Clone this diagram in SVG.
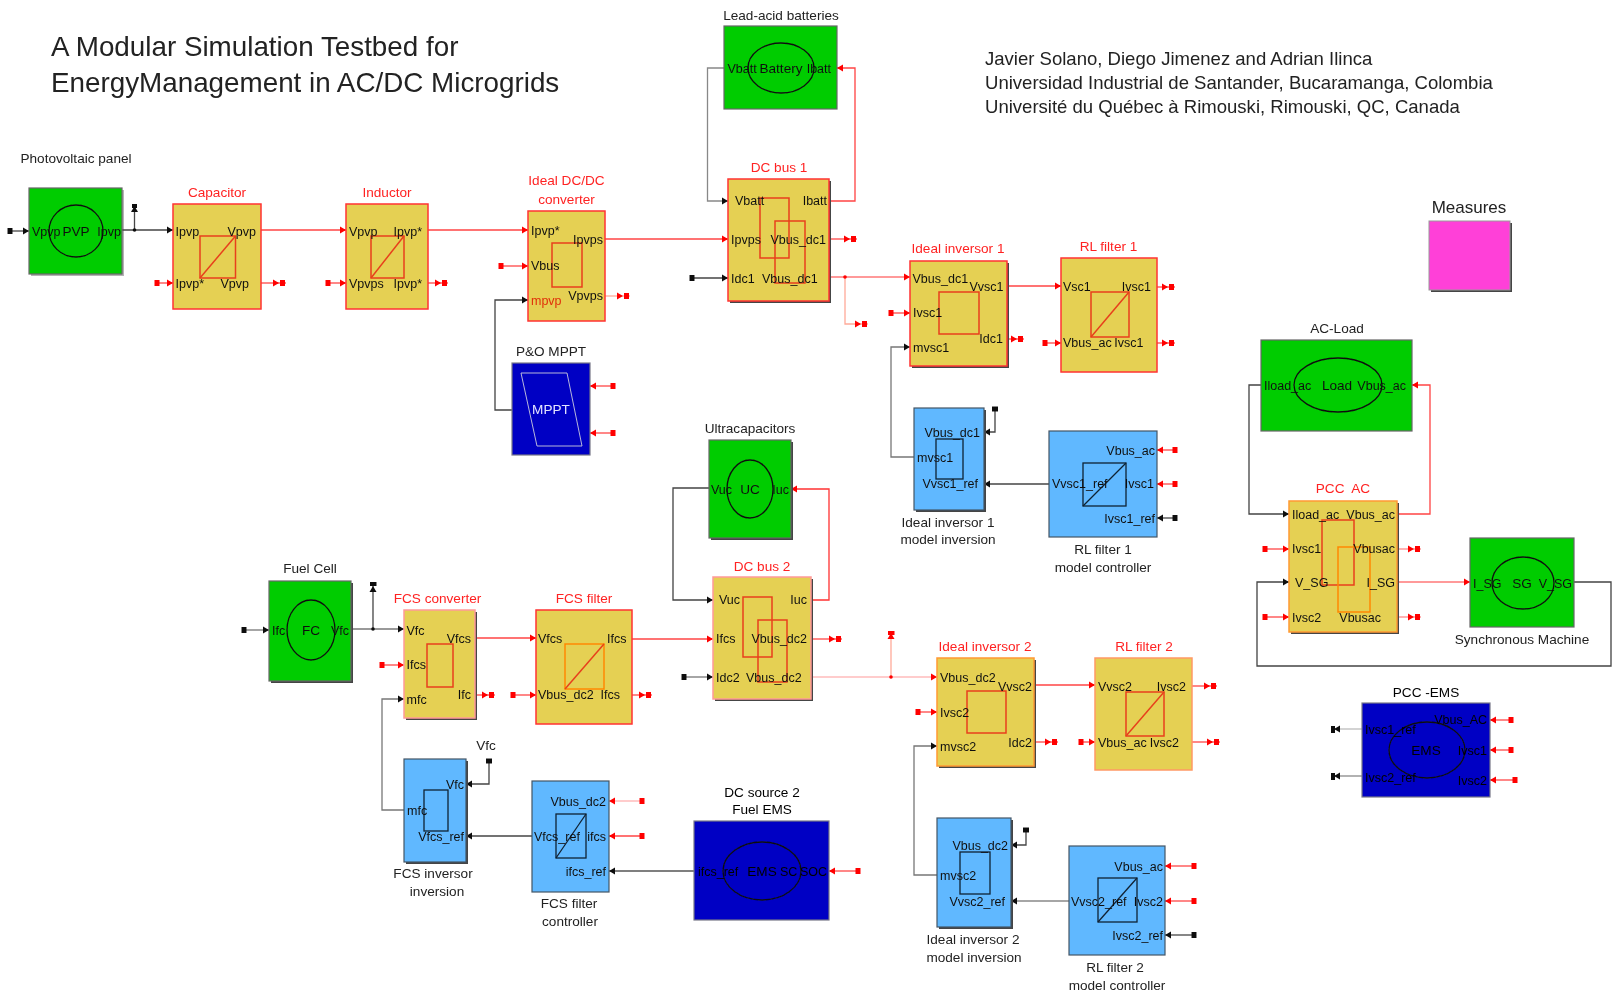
<svg xmlns="http://www.w3.org/2000/svg" width="1612" height="993" viewBox="0 0 1612 993">
<style>
text{font-family:"Liberation Sans",Arial,sans-serif;fill:#111;white-space:pre}
.p{font-size:12.5px}
.e{font-size:12.5px;text-anchor:end}
.l{font-size:13.6px;text-anchor:middle;fill:#222}
.rl{font-size:13.6px;text-anchor:middle;fill:#f22}
.c{font-size:13.6px;text-anchor:middle}
.t{font-size:27.8px;fill:#222}
.a{font-size:18.55px;fill:#222}
.y{fill:#e5d052;stroke:#f33;stroke-width:1.5}
.g{fill:#00cc00;stroke:#666;stroke-width:1.2}
.b{fill:#60b8ff;stroke:#456;stroke-width:1.2}
.d{fill:#0000c4;stroke:#778;stroke-width:1.2}
.sh{fill:#444}
.ir{fill:none;stroke:#e8401c;stroke-width:1.5}
.ik{fill:none;stroke:#123;stroke-width:1.3}
.e0{fill:none;stroke:#111;stroke-width:1.3}
.wr{fill:none;stroke:#f44;stroke-width:1.3}
.wp{fill:none;stroke:#fa9;stroke-width:1.3}
.wk{fill:none;stroke:#444;stroke-width:1.3}
.kt text{fill:#000}
</style>
<defs>
<filter id="soft" filterUnits="userSpaceOnUse" x="0" y="0" width="1612" height="993"><feGaussianBlur stdDeviation="0.4"/></filter>
<marker id="ar" markerUnits="userSpaceOnUse" markerWidth="7" markerHeight="8" refX="6" refY="4" orient="auto"><path d="M0,0.5 L6,4 L0,7.5z" fill="#f00"/></marker>
<marker id="ak" markerUnits="userSpaceOnUse" markerWidth="7" markerHeight="8" refX="6" refY="4" orient="auto"><path d="M0,0.5 L6,4 L0,7.5z" fill="#111"/></marker>
<marker id="sr" markerUnits="userSpaceOnUse" markerWidth="6" markerHeight="8" refX="3" refY="4" orient="auto"><rect x="0.5" y="1" width="5" height="6" fill="#f00"/></marker>
<marker id="sk" markerUnits="userSpaceOnUse" markerWidth="6" markerHeight="8" refX="3" refY="4" orient="auto"><rect x="0.5" y="1" width="5" height="6" fill="#111"/></marker>
<marker id="or" markerUnits="userSpaceOnUse" markerWidth="14" markerHeight="8" refX="13" refY="4" orient="auto"><path d="M0,0.5 L6,4 L0,7.5z" fill="#f00"/><rect x="7" y="1" width="5" height="6" fill="#f00"/></marker>
</defs>
<g id="diagram" filter="url(#soft)">
<g id="title">
<text class="t" x="51" y="56">A Modular Simulation Testbed for</text>
<text class="t" x="51" y="92">EnergyManagement in AC/DC Microgrids</text>
<text class="a" x="985" y="65">Javier Solano, Diego Jimenez and Adrian Ilinca</text>
<text class="a" x="985" y="89">Universidad Industrial de Santander, Bucaramanga, Colombia</text>
<text class="a" x="985" y="113">Université du Québec à Rimouski, Rimouski, QC, Canada</text>
</g>

<g id="connectors">
<path class="wk" d="M10,231H29" marker-start="url(#sk)" marker-end="url(#ak)"/>
<path class="wk" d="M122,230H173" marker-end="url(#ak)"/>
<path class="wk" d="M134.500,230V206" marker-end="url(#ak)"/>
<circle cx="134.500" cy="230" r="1.800" fill="#111"/>
<rect x="132" y="204" width="5" height="4" fill="#111"/>
<path class="wr" d="M261,230H346" marker-end="url(#ar)"/>
<path class="wr" d="M428,230H528" marker-end="url(#ar)"/>
<path class="wr" d="M605,239H728" marker-end="url(#ar)"/>
<path class="wr" d="M157,283H173" marker-start="url(#sr)" marker-end="url(#ar)"/>
<path class="wr" d="M261,283H286" marker-end="url(#or)"/>
<path class="wr" d="M328,283H346" marker-start="url(#sr)" marker-end="url(#ar)"/>
<path class="wr" d="M428,283H448" marker-end="url(#or)"/>
<path class="wr" d="M501,266H528" marker-start="url(#sr)" marker-end="url(#ar)"/>
<path class="wp" d="M605,296H630" marker-end="url(#or)"/>
<path class="wk" d="M512,410H495V300H528" marker-end="url(#ak)"/>
<path class="wr" d="M613,386H590" marker-start="url(#sr)" marker-end="url(#ar)"/>
<path class="wr" d="M613,433H590" marker-start="url(#sr)" marker-end="url(#ar)"/>
<path class="wk" d="M724,68H707.500V201H728" style="stroke:#888" marker-end="url(#ak)"/>
<path class="wr" d="M829,201H855V68H837" marker-end="url(#ar)"/>
<path class="wr" d="M829,239H857" marker-end="url(#or)"/>
<path class="wk" d="M692,278H728" marker-start="url(#sk)" marker-end="url(#ak)"/>
<path class="wr" d="M829,277H910" style="stroke:#f77" marker-end="url(#ar)"/>
<path class="wp" d="M845,277V324H868" marker-end="url(#or)"/>
<circle cx="845" cy="277" r="1.800" fill="#f00"/>
<path class="wr" d="M1007,286H1061" marker-end="url(#ar)"/>
<path class="wr" d="M891,313H910" marker-start="url(#sr)" marker-end="url(#ar)"/>
<path class="wr" d="M1007,339H1024" marker-end="url(#or)"/>
<path class="wr" d="M1157,287H1175" marker-end="url(#or)"/>
<path class="wr" d="M1045,343H1061" marker-start="url(#sr)" marker-end="url(#ar)"/>
<path class="wr" d="M1157,343H1175" marker-end="url(#or)"/>
<path class="wk" d="M914,457H891V347H910" style="stroke:#777" marker-end="url(#ak)"/>
<path class="wk" d="M995,409V432H984" marker-start="url(#sk)" marker-end="url(#ak)"/>
<path class="wk" d="M1049,484H984" marker-end="url(#ak)"/>
<path class="wr" d="M1175,450H1157" marker-start="url(#sr)" marker-end="url(#ar)"/>
<path class="wr" d="M1175,484H1157" marker-start="url(#sr)" marker-end="url(#ar)"/>
<path class="wk" d="M1175,518H1157" marker-start="url(#sk)" marker-end="url(#ak)"/>
<path class="wk" d="M1261,385H1249V514H1289" marker-end="url(#ak)"/>
<path class="wr" d="M1397,514H1430V385H1412" marker-end="url(#ar)"/>
<path class="wr" d="M1265,549H1289" marker-start="url(#sr)" marker-end="url(#ar)"/>
<path class="wr" d="M1265,617H1289" marker-start="url(#sr)" marker-end="url(#ar)"/>
<path class="wr" d="M1397,549H1421" style="stroke:#f88" marker-end="url(#or)"/>
<path class="wr" d="M1397,617H1421" style="stroke:#f88" marker-end="url(#or)"/>
<path class="wr" d="M1397,582H1470" style="stroke:#f77" marker-end="url(#ar)"/>
<path class="wk" d="M1574,582H1611V666H1257V582H1289" marker-end="url(#ak)"/>
<path class="wk" d="M244,630H269" style="stroke:#777" marker-start="url(#sk)" marker-end="url(#ak)"/>
<path class="wk" d="M351,629H404" style="stroke:#777" marker-end="url(#ak)"/>
<path class="wk" d="M373,629V586" marker-end="url(#ak)"/>
<circle cx="373" cy="629" r="1.800" fill="#111"/>
<rect x="370" y="582" width="6.500" height="4" fill="#111"/>
<path class="wr" d="M382,665H404" marker-start="url(#sr)" marker-end="url(#ar)"/>
<path class="wr" d="M475,638H536" marker-end="url(#ar)"/>
<path class="wr" d="M475,695H495" marker-end="url(#or)"/>
<path class="wr" d="M513,695H536" marker-start="url(#sr)" marker-end="url(#ar)"/>
<path class="wr" d="M632,695H652" marker-end="url(#or)"/>
<path class="wr" d="M632,639H713" marker-end="url(#ar)"/>
<path class="wr" d="M811,639H842" marker-end="url(#or)"/>
<path class="wk" d="M684,677H713" style="stroke:#777" marker-start="url(#sk)" marker-end="url(#ak)"/>
<path class="wr" d="M811,600H829V489H791" style="stroke:#f33" marker-end="url(#ar)"/>
<path class="wk" d="M709,488H673V600H713" marker-end="url(#ak)"/>
<path class="wp" d="M811,677H937" style="stroke:#fbb" marker-end="url(#ar)"/>
<path class="wp" d="M891,677V633" marker-end="url(#ar)"/>
<circle cx="891" cy="677" r="1.800" fill="#f00"/>
<rect x="888" y="631" width="6.500" height="4" fill="#f00"/>
<path class="wk" d="M404,810H382V699H404" style="stroke:#777" marker-end="url(#ak)"/>
<path class="wk" d="M489,761V784H466" marker-start="url(#sk)" marker-end="url(#ak)"/>
<path class="wk" d="M532,836H466" marker-end="url(#ak)"/>
<path class="wr" d="M642,801H609" style="stroke:#fbb" marker-start="url(#sr)" marker-end="url(#ar)"/>
<path class="wr" d="M642,836H609" marker-start="url(#sr)" marker-end="url(#ar)"/>
<path class="wk" d="M694,871H609" style="stroke:#555" marker-end="url(#ak)"/>
<path class="wr" d="M858,871H829" marker-start="url(#sr)" marker-end="url(#ar)"/>
<path class="wr" d="M1034,685H1095" marker-end="url(#ar)"/>
<path class="wr" d="M918,712H937" marker-start="url(#sr)" marker-end="url(#ar)"/>
<path class="wr" d="M1034,742H1058" marker-end="url(#or)"/>
<path class="wr" d="M1081,742H1095" marker-start="url(#sr)" marker-end="url(#ar)"/>
<path class="wr" d="M1192,686H1217" marker-end="url(#or)"/>
<path class="wr" d="M1192,742H1220" marker-end="url(#or)"/>
<path class="wk" d="M937,875H914V746H937" style="stroke:#777" marker-end="url(#ak)"/>
<path class="wk" d="M1026,830V845H1011" marker-start="url(#sk)" marker-end="url(#ak)"/>
<path class="wk" d="M1069,901H1011" style="stroke:#888" marker-end="url(#ak)"/>
<path class="wr" d="M1194,866H1165" marker-start="url(#sr)" marker-end="url(#ar)"/>
<path class="wr" d="M1194,901H1165" marker-start="url(#sr)" marker-end="url(#ar)"/>
<path class="wk" d="M1194,935H1165" marker-start="url(#sk)" marker-end="url(#ak)"/>
<path class="wp" d="M1362,729H1334" style="stroke:#bbb" marker-end="url(#ak)"/>
<rect x="1331" y="726" width="4" height="7" fill="#111"/>
<path class="wk" d="M1362,776H1334" style="stroke:#888" marker-end="url(#ak)"/>
<rect x="1331" y="773" width="4" height="7" fill="#111"/>
<path class="wr" d="M1511,720H1490" marker-start="url(#sr)" marker-end="url(#ar)"/>
<path class="wr" d="M1511,750H1490" marker-start="url(#sr)" marker-end="url(#ar)"/>
<path class="wr" d="M1515,780H1490" marker-start="url(#sr)" marker-end="url(#ar)"/>
</g>

<g id="pvp"><text class="l" x="76" y="163">Photovoltaic panel</text><rect class="sh" x="31" y="190" width="93" height="86" opacity=".4"/><rect class="g" x="29" y="188" width="93" height="86"/><ellipse class="e0" cx="76" cy="231" rx="27" ry="26"/><text class="c" x="76" y="236">PVP</text><text class="p" x="32" y="236">Vpvp</text><text class="e" x="121" y="236">Ipvp</text></g>

<g id="capacitor"><text class="rl" x="217" y="197">Capacitor</text><rect class="y" x="173" y="204" width="88" height="105"/><rect class="ir" x="200" y="236" width="35.500" height="42"/><path class="ir" d="M200,278L235.500,236"/><text class="p" x="175.500" y="236">Ipvp</text><text class="e" x="256" y="236">Vpvp</text><text class="p" x="175.500" y="288">Ipvp*</text><text class="e" x="249" y="288">Vpvp</text></g>

<g id="inductor"><text class="rl" x="387" y="197">Inductor</text><rect class="y" x="346" y="204" width="82" height="105"/><rect class="ir" x="371" y="236" width="33" height="42"/><path class="ir" d="M371,278L404,236"/><text class="p" x="349" y="236">Vpvp</text><text class="e" x="422" y="236">Ipvp*</text><text class="p" x="349" y="288">Vpvps</text><text class="e" x="422" y="288">Ipvp*</text></g>

<g id="dcdc"><text class="rl" x="566.500" y="185">Ideal DC/DC</text><text class="rl" x="566.500" y="204">converter</text><rect class="y" x="528" y="211" width="77" height="110"/><rect class="ir" x="552" y="243" width="30" height="44"/><text class="p" x="531" y="235">Ipvp*</text><text class="e" x="603" y="244">Ipvps</text><text class="p" x="531" y="270">Vbus</text><text class="p" x="531" y="305" style="fill:#e0300a">mpvp</text><text class="e" x="603" y="300">Vpvps</text></g>

<g id="mppt"><text class="l" x="551" y="356">P&amp;O MPPT</text><rect class="d" x="512" y="363" width="78" height="92"/><path d="M521,373H567L582,446H537z" fill="none" stroke="#ccd" stroke-width=".9"/><text class="c" x="551" y="414" style="fill:#e4e4ff">MPPT</text></g>

<g id="battery"><text class="l" x="781" y="20">Lead-acid batteries</text><rect class="g" x="724" y="26" width="113" height="83"/><ellipse class="e0" cx="781" cy="68" rx="33" ry="25"/><text class="c" x="781" y="73">Battery</text><text class="p" x="727.500" y="73">Vbatt</text><text class="e" x="831" y="73">Ibatt</text></g>

<g id="dcbus1"><text class="rl" x="779" y="172">DC bus 1</text><rect class="sh" x="730" y="181" width="101" height="122"/><rect class="y" x="728" y="179" width="101" height="122"/><rect class="ir" x="760" y="198" width="29" height="60"/><rect class="ir" x="775" y="221" width="30" height="62"/><text class="p" x="735" y="205">Vbatt</text><text class="e" x="827" y="205">Ibatt</text><text class="p" x="731" y="244">Ipvps</text><text class="e" x="826" y="244">Vbus_dc1</text><text class="p" x="731" y="283">Idc1</text><text class="p" x="762" y="283">Vbus_dc1</text></g>

<g id="inversor1"><text class="rl" x="958" y="253">Ideal inversor 1</text><rect class="sh" x="912" y="263" width="97" height="105"/><rect class="y" x="910" y="261" width="97" height="105"/><rect class="ir" x="939" y="292" width="40" height="42"/><text class="p" x="912.500" y="283">Vbus_dc1</text><text class="e" x="1003.500" y="291">Vvsc1</text><text class="p" x="913" y="317">Ivsc1</text><text class="e" x="1003" y="343">Idc1</text><text class="p" x="913" y="352">mvsc1</text></g>

<g id="rlfilter1"><text class="rl" x="1108.500" y="251">RL filter 1</text><rect class="y" x="1061" y="258" width="96" height="114"/><rect class="ir" x="1091" y="292" width="38" height="45"/><path class="ir" d="M1091,337L1129,292"/><text class="p" x="1063" y="291">Vsc1</text><text class="e" x="1151" y="291">Ivsc1</text><text class="p" x="1063" y="347">Vbus_ac</text><text class="e" x="1143.500" y="347">Ivsc1</text></g>

<g id="invmodel1"><rect class="sh" x="916" y="410" width="70" height="102"/><rect class="b" x="914" y="408" width="70" height="102"/><rect class="ik" x="936" y="439" width="27" height="40"/><text class="e" x="980" y="437">Vbus_dc1</text><text class="p" x="917" y="462">mvsc1</text><text class="e" x="978" y="488">Vvsc1_ref</text><text class="l" x="948" y="527">Ideal inversor 1</text><text class="l" x="948" y="544">model inversion</text></g>

<g id="rlctrl1"><rect class="b" x="1049" y="431" width="108" height="106"/><rect class="ik" x="1083" y="463" width="43" height="43"/><path class="ik" d="M1083,506L1126,463"/><text class="e" x="1155" y="455">Vbus_ac</text><text class="e" x="1154" y="488">Ivsc1</text><text class="e" x="1155" y="523">Ivsc1_ref</text><text class="p" x="1052" y="488">Vvsc1_ref</text><text class="l" x="1103" y="554">RL filter 1</text><text class="l" x="1103" y="572">model controller</text></g>

<g id="measures"><text x="1469" y="213" style="font-size:17px;text-anchor:middle;fill:#222">Measures</text><rect x="1431" y="223" width="81" height="69" fill="#444"/><rect x="1429" y="221" width="81" height="69" fill="#ff40d8" stroke="#999"/></g>

<g id="acload"><text class="l" x="1337" y="333">AC-Load</text><rect class="g" x="1261" y="340" width="151" height="91"/><ellipse class="e0" cx="1338" cy="385" rx="44" ry="27"/><text class="c" x="1337" y="390">Load</text><text class="p" x="1264" y="390">Iload_ac</text><text class="e" x="1406" y="390">Vbus_ac</text></g>

<g id="pccac"><text class="rl" x="1343" y="493">PCC  AC</text><rect class="sh" x="1291" y="503" width="108" height="131"/><rect class="y" x="1289" y="501" width="108" height="131" style="stroke:#f93"/><rect class="ir" x="1322" y="520" width="32" height="65"/><rect class="ir" x="1338" y="547" width="32" height="65" style="stroke:#f80"/><text class="p" x="1292" y="519">Iload_ac</text><text class="e" x="1395" y="519">Vbus_ac</text><text class="p" x="1292" y="553">Ivsc1</text><text class="e" x="1395" y="553">Vbusac</text><text class="p" x="1295" y="587">V_SG</text><text class="e" x="1395" y="587">I_SG</text><text class="p" x="1292" y="622">Ivsc2</text><text class="e" x="1381" y="622">Vbusac</text></g>

<g id="sg"><rect class="g" x="1470" y="538" width="104" height="89"/><ellipse class="e0" cx="1523" cy="583" rx="31" ry="26"/><text class="c" x="1522" y="588">SG</text><text class="p" x="1473" y="588">I_SG</text><text class="e" x="1572" y="588">V_SG</text><text class="l" x="1522" y="644">Synchronous Machine</text></g>

<g id="pccems" class="kt"><text class="l" x="1426" y="697">PCC -EMS</text><rect class="d" x="1362" y="703" width="128" height="94"/><ellipse class="e0" cx="1427" cy="750" rx="38" ry="28"/><text class="c" x="1426" y="755">EMS</text><text class="p" x="1365" y="734">Ivsc1_ref</text><text class="p" x="1365" y="782">Ivsc2_ref</text><text class="e" x="1487" y="724">Vbus_AC</text><text class="e" x="1487" y="755">Ivsc1</text><text class="e" x="1487" y="785">Ivsc2</text></g>

<g id="fuelcell"><text class="l" x="310" y="573">Fuel Cell</text><rect class="sh" x="271" y="583" width="82" height="100"/><rect class="g" x="269" y="581" width="82" height="100"/><ellipse class="e0" cx="311" cy="630" rx="24" ry="30"/><text class="c" x="311" y="635">FC</text><text class="p" x="272" y="635">Ifc</text><text class="e" x="349" y="635">Vfc</text></g>

<g id="fcsconv"><text class="rl" x="437.500" y="603">FCS converter</text><rect class="sh" x="406" y="612" width="71" height="108"/><rect class="y" x="404" y="610" width="71" height="108" style="stroke:#f99"/><rect class="ir" x="427" y="644" width="26" height="43"/><text class="p" x="406.500" y="635">Vfc</text><text class="e" x="471" y="643">Vfcs</text><text class="p" x="406.500" y="669">Ifcs</text><text class="e" x="471" y="699">Ifc</text><text class="p" x="406.500" y="704">mfc</text></g>

<g id="fcsfilter"><text class="rl" x="584" y="603">FCS filter</text><rect class="y" x="536" y="610" width="96" height="114"/><rect class="ir" x="565" y="644" width="39" height="45" style="stroke:#f80"/><path class="ir" d="M565,689L604,644"/><text class="p" x="538" y="643">Vfcs</text><text class="e" x="626.500" y="643">Ifcs</text><text class="p" x="538" y="699">Vbus_dc2</text><text class="e" x="620" y="699">Ifcs</text></g>

<g id="dcbus2"><text class="rl" x="762" y="571">DC bus 2</text><rect class="sh" x="715" y="579" width="98" height="122"/><rect class="y" x="713" y="577" width="98" height="122" style="stroke:#f99"/><rect class="ir" x="743" y="597" width="29" height="60"/><rect class="ir" x="758" y="620" width="29" height="62"/><text class="p" x="719" y="604">Vuc</text><text class="e" x="807" y="604">Iuc</text><text class="p" x="716" y="643">Ifcs</text><text class="e" x="807" y="643">Vbus_dc2</text><text class="p" x="716" y="682">Idc2</text><text class="p" x="746" y="682">Vbus_dc2</text></g>

<g id="uc"><text class="l" x="750" y="433">Ultracapacitors</text><rect class="sh" x="711" y="442" width="82" height="98"/><rect class="g" x="709" y="440" width="82" height="98"/><ellipse class="e0" cx="750" cy="489" rx="23" ry="29"/><text class="c" x="750" y="494">UC</text><text class="p" x="711" y="494">Vuc</text><text class="e" x="789" y="494">Iuc</text></g>

<g id="fcsinv"><rect class="sh" x="406" y="761" width="62" height="103"/><rect class="b" x="404" y="759" width="62" height="103"/><rect class="ik" x="424" y="790" width="24" height="41"/><text class="e" x="464" y="789">Vfc</text><text class="p" x="407" y="815">mfc</text><text class="e" x="464" y="841">Vfcs_ref</text><text class="l" x="433" y="878">FCS inversor</text><text class="l" x="437" y="896">inversion</text><text class="l" x="486" y="750">Vfc</text></g>

<g id="fcsctrl"><rect class="b" x="532" y="781" width="77" height="111"/><rect class="ik" x="556" y="814" width="30" height="44"/><path class="ik" d="M556,858L586,814"/><text class="e" x="606" y="806">Vbus_dc2</text><text class="e" x="606" y="841">ifcs</text><text class="e" x="606" y="876">ifcs_ref</text><text class="p" x="534" y="841">Vfcs_ref</text><text class="l" x="569" y="908">FCS filter</text><text class="l" x="570" y="926">controller</text></g>

<g id="fuelems" class="kt"><text class="l" x="762" y="797">DC source 2</text><text class="l" x="762" y="814">Fuel EMS</text><rect class="d" x="694" y="821" width="135" height="99"/><ellipse class="e0" cx="762" cy="871" rx="39" ry="29"/><text class="c" x="762" y="876">EMS</text><text class="p" x="698" y="876">ifcs_ref</text><text class="p" x="780" y="876">SC</text><text class="e" x="827" y="876">SOC</text></g>

<g id="inversor2"><text class="rl" x="985" y="651">Ideal inversor 2</text><rect class="sh" x="939" y="660" width="97" height="108"/><rect class="y" x="937" y="658" width="97" height="108" style="stroke:#f93"/><rect class="ir" x="967" y="691" width="39" height="42"/><text class="p" x="940" y="682">Vbus_dc2</text><text class="e" x="1032" y="691">Vvsc2</text><text class="p" x="940" y="717">Ivsc2</text><text class="e" x="1032" y="747">Idc2</text><text class="p" x="940" y="751">mvsc2</text></g>

<g id="rlfilter2"><text class="rl" x="1144" y="651">RL filter 2</text><rect class="y" x="1095" y="658" width="97" height="112" style="stroke:#f96"/><rect class="ir" x="1126" y="692" width="38" height="44"/><path class="ir" d="M1126,736L1164,692"/><text class="p" x="1098" y="691">Vvsc2</text><text class="e" x="1186" y="691">Ivsc2</text><text class="p" x="1098" y="747">Vbus_ac</text><text class="e" x="1179" y="747">Ivsc2</text></g>

<g id="invmodel2"><rect class="sh" x="939" y="820" width="74" height="109"/><rect class="b" x="937" y="818" width="74" height="109"/><rect class="ik" x="960" y="852" width="30" height="42"/><text class="e" x="1008" y="850">Vbus_dc2</text><text class="p" x="940" y="880">mvsc2</text><text class="e" x="1005" y="906">Vvsc2_ref</text><text class="l" x="973" y="944">Ideal inversor 2</text><text class="l" x="974" y="962">model inversion</text></g>

<g id="rlctrl2"><rect class="b" x="1069" y="846" width="96" height="109"/><rect class="ik" x="1098" y="878" width="39" height="44"/><path class="ik" d="M1098,922L1137,878"/><text class="e" x="1163" y="871">Vbus_ac</text><text class="e" x="1163" y="906">Ivsc2</text><text class="e" x="1163" y="940">Ivsc2_ref</text><text class="p" x="1071" y="906">Vvsc2_ref</text><text class="l" x="1115" y="972">RL filter 2</text><text class="l" x="1117" y="990">model controller</text></g>
</g>
</svg>
